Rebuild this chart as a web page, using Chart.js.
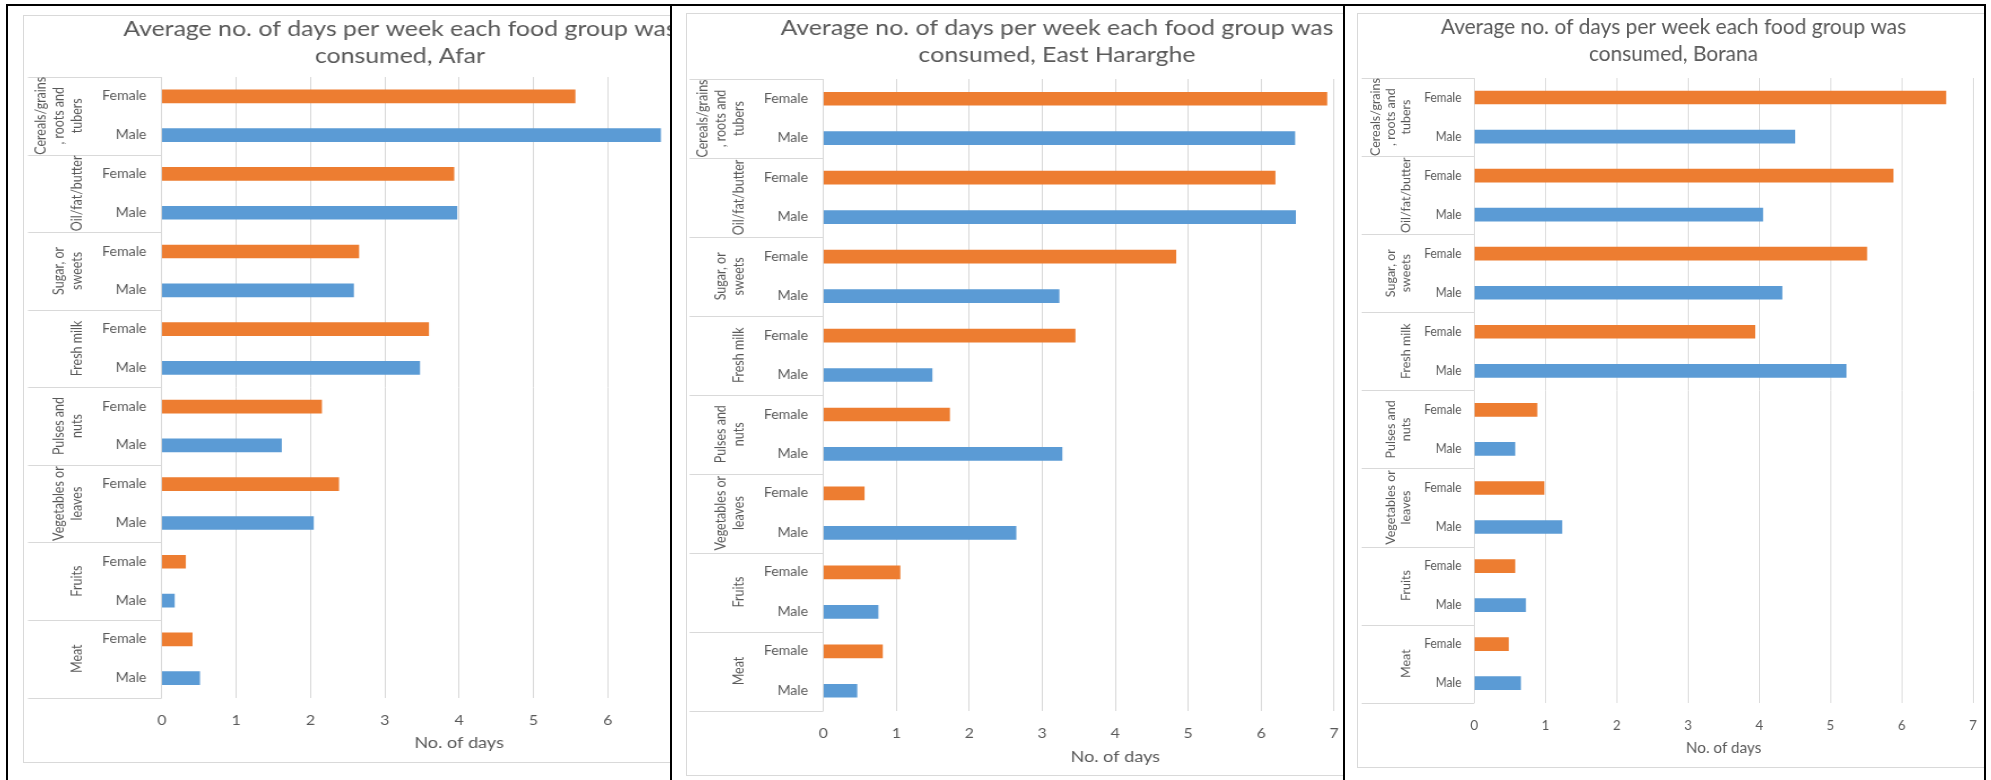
<!DOCTYPE html>
<html>
<head>
<meta charset="utf-8">
<title>Average no. of days per week each food group was consumed</title>
<script src="https://cdn.jsdelivr.net/npm/chart.js@4.4.1/dist/chart.umd.min.js"></script>
<style>
  html, body { margin: 0; padding: 0; background: #fff; }
  body { position: relative; width: 1991px; height: 780px; overflow: hidden; }
  .frame { position: absolute; box-sizing: border-box; border: 2px solid #000; background: #fff; overflow: hidden; }
  .area { position: absolute; box-sizing: border-box; border: 1px solid #d9d9d9; }
  .frame canvas { position: absolute; transform-origin: 0 0; }
</style>
</head>
<body>
<div class="frame" id="frame0"><div class="area"></div><canvas id="chart0"></canvas></div>
<div class="frame" id="frame1"><div class="area"></div><canvas id="chart1"></canvas></div>
<div class="frame" id="frame2"><div class="area"></div><canvas id="chart2"></canvas></div>
<script>
// food groups, top to bottom, split the way the axis wraps them
const foodGroups = [
  ['Cereals/grains', ', roots and', 'tubers'],
  ['Oil/fat/butter'],
  ['Sugar, or', 'sweets'],
  ['Fresh milk'],
  ['Pulses and', 'nuts'],
  ['Vegetables or', 'leaves'],
  ['Fruits'],
  ['Meat']
];
const sexes = ['Female', 'Male'];

// average no. of days per week, one value per food group
const afarFemale = [5.56, 3.93, 2.65, 3.59, 2.15, 2.38, 0.32, 0.41];
const afarMale = [6.71, 3.97, 2.58, 3.47, 1.61, 2.04, 0.17, 0.51];
const hararFemale = [6.90, 6.19, 4.83, 3.45, 1.73, 0.56, 1.05, 0.81];
const hararMale = [6.46, 6.47, 3.23, 1.49, 3.27, 2.64, 0.75, 0.46];
const boranaFemale = [6.62, 5.88, 5.51, 3.94, 0.88, 0.98, 0.57, 0.48];
const boranaMale = [4.50, 4.05, 4.32, 5.22, 0.57, 1.23, 0.72, 0.65];

const regions = ['Afar', 'East Hararghe', 'Borana'];
const femaleByRegion = [afarFemale, hararFemale, boranaFemale];
const maleByRegion = [afarMale, hararMale, boranaMale];
const axisMax = [8, 8, 7];
const titleLine = 'Average no. of days per week each food group was';
const axisTitle = 'No. of days';

const ORANGE = '#ED7D31';
const BLUE = '#5B9BD5';
const TEXT = '#595959';
const GRID = '#d9d9d9';

Chart.defaults.font.family = 'Lato';
Chart.defaults.color = TEXT;

// page boxes: black frame, chart area and plot area (left, top, right, bottom)
// sx is the horizontal stretch each chart was pasted with
const boxes = [
  { frame: [6, 4, 666, 800], area: [23, 15, 754, 748], plot: [161.7, 77, 762.5, 697.5], sx: 1.13,
    titleTop: 0, tickPad: 14.1, axisH: 55.1, groupLeft: 28, groupText: 77 },
  { frame: [670, 4, 676, 800], area: [686, 13, 742, 763], plot: [823.3, 79, 1417.7, 710.5], sx: 1.13,
    titleTop: 1.8, tickPad: 14.4, axisH: 55.8, groupLeft: 689.5, groupText: 739 },
  { frame: [1343, 4, 643, 800], area: [1357, 13, 633, 755], plot: [1474.3, 78, 1978.7, 702.7], sx: 0.95,
    titleTop: 0.8, tickPad: 13.9, axisH: 54.6, groupLeft: 1361.6, groupText: 1406.4 }
];

// outer level of the category axis: group separators and rotated group names
const groupAxis = {
  id: 'groupAxis',
  afterDraw(chart, args, opts) {
    const { ctx } = chart;
    const y = chart.scales.y;
    const right = y.right;
    ctx.save();
    ctx.strokeStyle = GRID;
    ctx.lineWidth = 1;
    for (let g = 0; g <= foodGroups.length; g++) {
      const py = Math.round(y.getPixelForValue(g * 2 - 0.5)) + 0.5;
      ctx.beginPath();
      ctx.moveTo(opts.left, py);
      ctx.lineTo(right, py);
      ctx.stroke();
    }
    ctx.fillStyle = TEXT;
    ctx.font = '12.5px Lato';
    ctx.textAlign = 'center';
    ctx.textBaseline = 'middle';
    foodGroups.forEach((lines, g) => {
      const cy = y.getPixelForValue(g * 2 + 0.5);
      ctx.save();
      ctx.translate(opts.textX, cy);
      ctx.rotate(-Math.PI / 2);
      lines.forEach((line, k) => {
        ctx.fillText(line, 0, (k - (lines.length - 1)) * opts.lineGap);
      });
      ctx.restore();
    });
    ctx.restore();
  }
};

function makeChart(i) {
  const b = boxes[i];
  const [fx, fy, fw, fh] = b.frame;
  const [ax, ay, aw, ah] = b.area;

  const frame = document.getElementById('frame' + i);
  Object.assign(frame.style, { left: fx + 'px', top: fy + 'px', width: fw + 'px', height: fh + 'px' });
  const area = frame.querySelector('.area');
  Object.assign(area.style, { left: (ax - fx - 2) + 'px', top: (ay - fy - 2) + 'px', width: aw + 'px', height: ah + 'px' });

  const W = Math.round(aw / b.sx);
  const H = ah;
  const sx = aw / W;
  const canvas = document.getElementById('chart' + i);
  canvas.width = W;
  canvas.height = H;
  Object.assign(canvas.style, {
    left: (ax - fx - 2) + 'px', top: (ay - fy - 2) + 'px',
    width: W + 'px', height: H + 'px', transform: 'scaleX(' + sx + ')'
  });

  const plotL = (b.plot[0] - ax) / sx;
  const plotR = (b.plot[2] - ax) / sx;
  const plotT = b.plot[1] - ay;
  const plotB = b.plot[3] - ay;
  const side = W - plotR;

  const female = femaleByRegion[i];
  const male = maleByRegion[i];
  const rows = foodGroups.flatMap(() => sexes);
  const values = female.flatMap((v, k) => [v, male[k]]);
  const colors = rows.map(s => (s === 'Female' ? ORANGE : BLUE));

  new Chart(canvas, {
    type: 'bar',
    data: {
      labels: rows,
      datasets: [{ data: values, backgroundColor: colors, borderWidth: 0, barThickness: 13 }]
    },
    options: {
      indexAxis: 'y',
      responsive: false,
      animation: false,
      devicePixelRatio: 1,
      layout: { padding: { left: side, right: side, top: 0, bottom: H - plotB - b.axisH } },
      plugins: {
        legend: { display: false },
        tooltip: { enabled: false },
        title: {
          display: true,
          text: [titleLine, 'consumed, ' + regions[i]],
          color: TEXT,
          font: { size: 22, weight: 'normal', lineHeight: '27px' },
          padding: { top: b.titleTop, bottom: plotT - 54 - b.titleTop }
        },
        groupAxis: {
          left: (b.groupLeft - ax) / sx,
          textX: (b.groupText - ax) / sx,
          lineGap: 16
        }
      },
      scales: {
        x: {
          min: 0,
          max: axisMax[i],
          ticks: { stepSize: 1, color: TEXT, font: { size: 14 }, padding: b.tickPad, maxRotation: 0 },
          grid: { color: GRID, lineWidth: 1, drawTicks: false },
          border: { display: false },
          title: { display: true, text: axisTitle, color: TEXT, font: { size: 16 }, padding: 0 },
          afterFit(scale) { scale.height = b.axisH; }
        },
        y: {
          grid: { display: false, drawTicks: false },
          border: { display: true, color: GRID, width: 1 },
          ticks: { color: TEXT, font: { size: 12.5 }, padding: 13.5, autoSkip: false },
          afterFit(scale) { scale.width = plotL - side; }
        }
      }
    },
    plugins: [groupAxis]
  });
}

[0, 1, 2].forEach(makeChart);
</script>
</body>
</html>
